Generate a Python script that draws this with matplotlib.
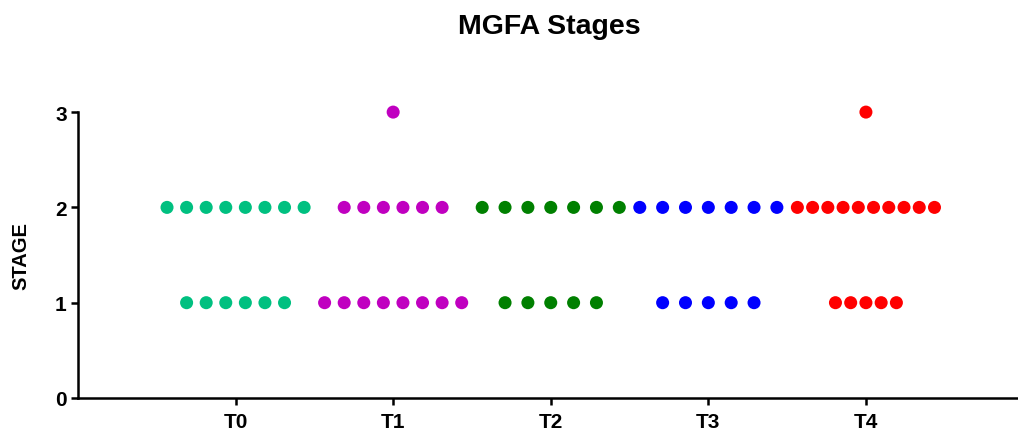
import matplotlib
matplotlib.use("Agg")
import matplotlib.pyplot as plt
import numpy as np

plt.rcParams['font.family'] = ['Liberation Sans', 'DejaVu Sans']

groups = ["T0", "T1", "T2", "T3", "T4"]
stages = [1, 2, 3]
count_stage1 = [6, 8, 5, 5, 5]
count_stage2 = [8, 6, 7, 7, 10]
count_stage3 = [0, 1, 0, 0, 1]
colors = ["#00C080", "#C000C0", "#008000", "#0000FF", "#FF0000"]

fig = plt.figure(figsize=(10.18, 4.35), dpi=100)
ax = fig.add_axes([0.0766, 0.0828, 0.9234, 0.6572])

span = 0.87
counts_all = [count_stage1, count_stage2, count_stage3]
for gi, g in enumerate(groups):
    nmax = max(c[gi] for c in counts_all)
    step = span / (nmax - 1) if nmax > 1 else 0
    for si, st in enumerate(stages):
        n = counts_all[si][gi]
        if n == 0:
            continue
        offs = (np.arange(n) - (n - 1) / 2) * step
        ax.scatter(gi + offs, np.full(n, st), s=88, color=colors[gi],
                   edgecolors='none', zorder=3, clip_on=False)

ax.set_xlim(-1, 4.965)
ax.set_ylim(0, 3)
ax.set_xticks(range(len(groups)))
ax.set_xticklabels(groups)
ax.set_yticks([0, 1, 2, 3])
for s in ['top', 'right']:
    ax.spines[s].set_visible(False)
for s in ['left', 'bottom']:
    ax.spines[s].set_linewidth(1.8)
ax.tick_params(axis='both', width=1.8, length=5, labelsize=15, pad=3)
ax.tick_params(axis='x', pad=5)
for lab in ax.get_xticklabels() + ax.get_yticklabels():
    lab.set_fontweight('bold')
ax.set_ylabel("STAGE", fontsize=14.5, fontweight='bold', labelpad=18)
fig.text(0.5395, 0.937, "MGFA Stages", ha='center', va='center',
         fontsize=20.5, fontweight='bold')

fig.savefig("out.png", dpi=100)
